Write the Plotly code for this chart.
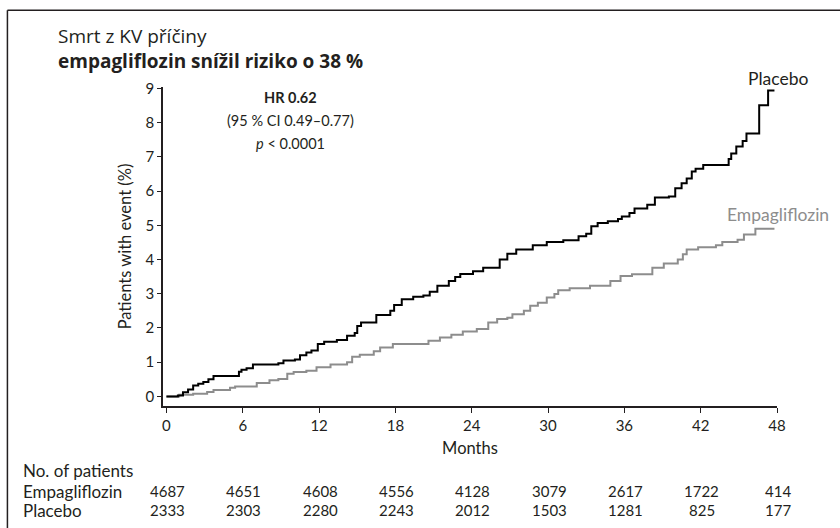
import plotly.graph_objects as go

# ---- data ----
placebo_months = [0, 0.9, 1.3, 1.7, 2.1, 2.5, 2.9, 3.3, 3.7, 5.7, 5.9, 6.3, 6.8, 8.8, 9.2, 10.1, 10.5, 11.0,
                  11.4, 11.9, 12.4, 13.4, 14.2, 14.8, 15.0, 15.3, 16.5, 17.6, 17.9, 18.5, 19.4, 20.2, 20.7,
                  21.3, 22.2, 22.7, 23.1, 24.1, 24.9, 26.2, 26.8, 27.5, 28.8, 29.9, 31.2, 32.4, 33.0, 33.4,
                  33.9, 34.7, 35.5, 35.8, 36.4, 36.8, 37.8, 38.4, 39.5, 40.0, 40.5, 40.9, 41.3, 41.6, 42.2,
                  44.2, 44.4, 44.8, 45.3, 45.6, 46.6, 47.3, 47.8]
placebo_pct = [0.0, 0.03, 0.12, 0.2, 0.32, 0.37, 0.42, 0.5, 0.6, 0.72, 0.78, 0.82, 0.93, 0.97, 1.05, 1.08, 1.2, 1.28,
               1.34, 1.53, 1.6, 1.65, 1.77, 1.85, 2.06, 2.16, 2.38, 2.5, 2.67, 2.84, 2.91, 2.95, 3.06,
               3.23, 3.37, 3.49, 3.58, 3.66, 3.76, 4.0, 4.17, 4.29, 4.42, 4.51, 4.56, 4.68, 4.75, 4.97,
               5.07, 5.12, 5.18, 5.26, 5.36, 5.49, 5.6, 5.81, 5.84, 6.08, 6.23, 6.37, 6.57, 6.65, 6.76,
               6.94, 7.1, 7.3, 7.46, 7.68, 8.51, 8.94, 8.94]

empa_months = [0, 1.0, 2.1, 3.2, 3.7, 5.0, 5.4, 7.1, 8.1, 8.8, 9.5, 10.0, 11.0, 11.8, 12.9, 14.2, 14.6, 15.2,
               16.3, 16.8, 17.8, 20.6, 21.5, 22.4, 23.3, 24.4, 25.3, 26.0, 26.8, 27.2, 28.1, 28.6, 29.2,
               29.9, 30.5, 30.8, 31.7, 33.3, 34.9, 35.7, 36.6, 38.2, 39.1, 40.2, 40.6, 40.9, 41.8, 43.2,
               43.7, 44.9, 45.4, 46.3, 47.8]
empa_pct = [0.0, 0.05, 0.08, 0.13, 0.19, 0.25, 0.29, 0.39, 0.47, 0.51, 0.66, 0.71, 0.75, 0.85, 0.93, 1.0, 1.16, 1.22,
            1.32, 1.43, 1.53, 1.63, 1.72, 1.8, 1.9, 1.97, 2.16, 2.26, 2.3, 2.4, 2.5, 2.65, 2.74,
            2.89, 2.99, 3.1, 3.16, 3.23, 3.37, 3.52, 3.57, 3.76, 3.88, 4.0, 4.15, 4.29, 4.36, 4.42,
            4.51, 4.58, 4.73, 4.9, 4.9]

x_ticks = [0, 6, 12, 18, 24, 30, 36, 42, 48]
y_ticks = [0, 1, 2, 3, 4, 5, 6, 7, 8, 9]
risk_empa = [4687, 4651, 4608, 4556, 4128, 3079, 2617, 1722, 414]
risk_placebo = [2333, 2303, 2280, 2243, 2012, 1503, 1281, 825, 177]

title_line1 = "Smrt z KV příčiny"
title_line2 = "empagliflozin snížil riziko o 38 %"

# ---- layout geometry (pixels) ----
W, H = 840, 528
L, R, T, B = 163, 776.7, 86.7, 405.7
FONT = "Lato, 'Open Sans', sans-serif"
TFONT = "'Open Sans', Lato, sans-serif"
TXT = "#231f20"
GRAY = "#8d8d8d"


def px(x):
    return (x - L) / (R - L)


def py(y):
    return (B - y) / (B - T)


fig = go.Figure()
fig.add_trace(go.Scatter(x=empa_months, y=empa_pct, mode="lines", line=dict(color=GRAY, width=2, shape="hv"),
                         showlegend=False, hoverinfo="skip"))
fig.add_trace(go.Scatter(x=placebo_months, y=placebo_pct, mode="lines", line=dict(color="#000000", width=2, shape="hv"),
                         showlegend=False, hoverinfo="skip"))

ann = []


def text(x, y, s, size=14, color=TXT, xanchor="center", family=FONT, align="center"):
    ann.append(dict(x=x, y=y, text=s, showarrow=False, xref="paper", yref="paper", xanchor=xanchor, yanchor="middle",
                    align=align, font=dict(family=family, size=size, color=color)))


text(px(56), py(48), title_line1 + "<br><b>" + title_line2 + "</b>", size=19, xanchor="left", family=TFONT,
     align="left")
text(px(290), py(97), "<b>HR 0.62</b>", size=14.5)
text(px(290), py(120), "(95 % CI 0.49–0.77)", size=14.5)
text(px(290), py(143), "<i>p</i> < 0.0001", size=14.5)
text(px(778), py(78), "Placebo", size=17.5)
text(px(778), py(214), "Empagliflozin", size=17.5, color=GRAY)

text(px(21), py(470), "No. of patients", size=17, xanchor="left")
text(px(21), py(491), "Empagliflozin", size=17, xanchor="left")
text(px(21), py(510), "Placebo", size=17, xanchor="left")
for m, a, b in zip(x_ticks, risk_empa, risk_placebo):
    ann.append(dict(x=m, y=py(491), text=str(a), showarrow=False, xref="x", yref="paper", xanchor="center",
                    yanchor="middle", xshift=1, font=dict(family=FONT, size=15, color=TXT)))
    ann.append(dict(x=m, y=py(510), text=str(b), showarrow=False, xref="x", yref="paper", xanchor="center",
                    yanchor="middle", xshift=1, font=dict(family=FONT, size=15, color=TXT)))

shapes = [
    dict(type="line", xref="paper", yref="paper", x0=px(7.5), x1=px(845), y0=py(10), y1=py(10),
         line=dict(color="#231f20", width=1.5)),
    dict(type="line", xref="paper", yref="paper", x0=px(7.5), x1=px(7.5), y0=py(10), y1=py(535),
         line=dict(color="#231f20", width=1.5)),
]

fig.update_layout(
    width=W, height=H,
    margin=dict(l=L, r=W - R, t=T, b=H - B, pad=0),
    paper_bgcolor="white", plot_bgcolor="white",
    annotations=ann, shapes=shapes,
    xaxis=dict(range=[-0.27, 48], tickvals=x_ticks, ticktext=[str(v) for v in x_ticks],
               showgrid=False, zeroline=False, showline=True, linecolor="#231f20", linewidth=1.5,
               ticks="outside", ticklen=5, tickwidth=1.2, tickcolor="#231f20",
               tickfont=dict(family=FONT, size=15, color=TXT),
               title=dict(text="Months", font=dict(family=FONT, size=16.5, color=TXT), standoff=10)),
    yaxis=dict(range=[-0.28, 9.04], tickvals=y_ticks, ticktext=[str(v) for v in y_ticks],
               showgrid=False, zeroline=False, showline=True, linecolor="#231f20", linewidth=1.5,
               ticks="outside", ticklen=4, tickwidth=1.2, tickcolor="#231f20",
               tickfont=dict(family=FONT, size=15, color=TXT),
               title=dict(text="Patients with event (%)", font=dict(family=FONT, size=16.5, color=TXT), standoff=10)),
)

fig.write_html("out.html", config={"displayModeBar": False},
               post_script="document.body.style.margin='0';")
